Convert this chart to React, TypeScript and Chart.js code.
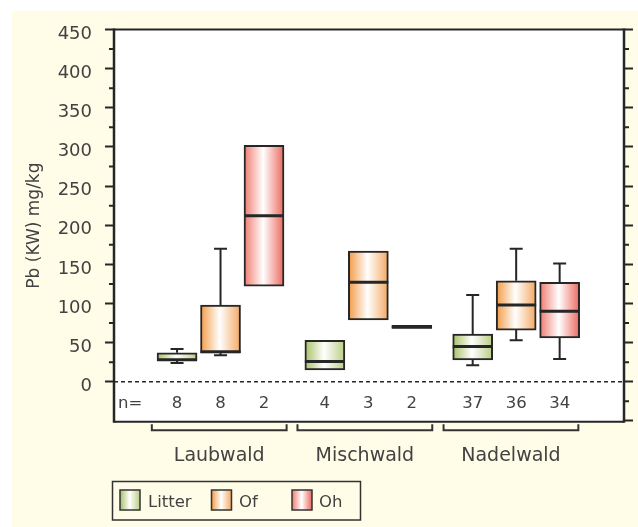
import React, { useEffect, useRef } from 'react';
import { Chart, registerables } from 'chart.js';

Chart.register(...registerables);

// ---------- data ----------
const groups = ['Laubwald', 'Mischwald', 'Nadelwald'];
const seriesNames = ['Litter', 'Of', 'Oh'];
const groupStart = [1, 4.4, 7.8];

const litterMin = [24, null, 21];
const litterQ1 = [27, 15, 28];
const litterMed = [28, 26, 45];
const litterQ3 = [37, 53, 61];
const litterMax = [42, null, 111];

const ofMin = [34, null, 53];
const ofQ1 = [37, 79, 66];
const ofMed = [38.5, 127, 98];
const ofQ3 = [98, 167, 129];
const ofMax = [170, null, 170];

const ohMin = [null, null, 29];
const ohQ1 = [122, 68, 56];
const ohMed = [212, 70, 90];
const ohQ3 = [302, 72, 127];
const ohMax = [null, null, 151];

const nLitter = [8, 4, 37];
const nOf = [8, 3, 36];
const nOh = [2, 2, 34];

const yMajorTicks = [0, 50, 100, 150, 200, 250, 300, 350, 400, 450];
const yMajorTicksRight = [-50, 0, 50, 100, 150, 200, 250, 300, 350, 400, 450];
const yMinorTicks = [25, 75, 125, 175, 225, 275, 325, 375, 425];
const yMinorTicksRight = [-25, 25, 75, 125, 175, 225, 275, 325, 375, 425];

const bracketCenters = [1.97, 5.32, 8.68];
const bracketHalf = 1.55;

// ---------- style ----------
const FONT = "'DejaVu Sans', 'Liberation Sans', sans-serif";
const TEXT = '#424242';
const INK = '#262626';
const CREAM = '#fffce8';
const colorsL = ['#a7c066', '#f39a45', '#ef7a6e'];
const colorsR = ['#b8cd84', '#f4a862', '#eb685c'];

function grad(ctx: CanvasRenderingContext2D, x0: number, x1: number, si: number) {
  const g = ctx.createLinearGradient(x0, 0, x1, 0);
  g.addColorStop(0, colorsL[si]);
  g.addColorStop(0.48, '#ffffff');
  g.addColorStop(1, colorsR[si]);
  return g;
}

const seriesStats = [
  { min: litterMin, q1: litterQ1, med: litterMed, q3: litterQ3, max: litterMax, n: nLitter },
  { min: ofMin, q1: ofQ1, med: ofMed, q3: ofQ3, max: ofMax, n: nOf },
  { min: ohMin, q1: ohQ1, med: ohMed, q3: ohQ3, max: ohMax, n: nOh },
];

const boxPlugin = {
  id: 'boxExtras',
  beforeDraw(chart: any) {
    const { ctx, width, height, chartArea: a } = chart;
    ctx.save();
    ctx.fillStyle = '#ffffff';
    ctx.fillRect(0, 0, width, height);
    ctx.fillStyle = CREAM;
    ctx.fillRect(12, 11, width - 12, height - 11);
    ctx.fillStyle = '#ffffff';
    ctx.fillRect(a.left, a.top, a.right - a.left, a.bottom - a.top);
    ctx.restore();
  },
  beforeDatasetsDraw(chart: any) {
    chart.data.datasets.forEach((ds: any, di: number) => {
      const meta = chart.getDatasetMeta(di);
      meta.data.forEach((bar: any) => {
        const { x, width } = bar.getProps(['x', 'width'], true);
        if (!isFinite(x) || !isFinite(width)) return;
        bar.options = Object.assign({}, bar.options, {
          backgroundColor: grad(chart.ctx, x - width / 2, x + width / 2, di),
        });
      });
    });
  },
  afterDatasetsDraw(chart: any) {
    const { ctx, chartArea: a } = chart;
    const ys = chart.scales.y;
    ctx.save();
    ctx.strokeStyle = INK;
    ctx.lineWidth = 1.5;
    ctx.setLineDash([4, 3]);
    const y0 = ys.getPixelForValue(0);
    ctx.beginPath();
    ctx.moveTo(a.left, y0);
    ctx.lineTo(a.right, y0);
    ctx.stroke();
    ctx.setLineDash([]);
    chart.data.datasets.forEach((ds: any, di: number) => {
      const meta = chart.getDatasetMeta(di);
      meta.data.forEach((bar: any, i: number) => {
        const raw = ds.data[i];
        const { x, width } = bar.getProps(['x', 'width'], true);
        const half = width / 2;
        const top = ys.getPixelForValue(raw.y[1]);
        const bot = ys.getPixelForValue(raw.y[0]);
        ctx.strokeStyle = INK;
        ctx.lineWidth = 2;
        const cap = 6.5;
        if (raw.max != null) {
          const ym = ys.getPixelForValue(raw.max);
          ctx.beginPath();
          ctx.moveTo(x, top);
          ctx.lineTo(x, ym);
          ctx.moveTo(x - cap, ym);
          ctx.lineTo(x + cap, ym);
          ctx.stroke();
        }
        if (raw.min != null) {
          const ym = ys.getPixelForValue(raw.min);
          ctx.beginPath();
          ctx.moveTo(x, bot);
          ctx.lineTo(x, ym);
          ctx.moveTo(x - cap, ym);
          ctx.lineTo(x + cap, ym);
          ctx.stroke();
        }
        const yMed = ys.getPixelForValue(raw.med);
        ctx.lineWidth = 3;
        ctx.beginPath();
        ctx.moveTo(x - half, yMed);
        ctx.lineTo(x + half, yMed);
        ctx.stroke();
      });
    });
    ctx.restore();
  },
  afterDraw(chart: any) {
    const { ctx, chartArea: a } = chart;
    const ys = chart.scales.y;
    const xs = chart.scales.x;
    ctx.save();
    ctx.strokeStyle = INK;
    ctx.lineWidth = 2;
    ctx.beginPath();
    ctx.moveTo(a.left, a.top);
    ctx.lineTo(a.right, a.top);
    ctx.moveTo(a.left, a.bottom);
    ctx.lineTo(a.right, a.bottom);
    ctx.stroke();
    ctx.lineWidth = 2.5;
    ctx.beginPath();
    ctx.moveTo(a.left, a.top - 1);
    ctx.lineTo(a.left, a.bottom + 1);
    ctx.moveTo(a.right, a.top - 1);
    ctx.lineTo(a.right, a.bottom + 1);
    ctx.stroke();
    ctx.lineWidth = 2;
    ctx.beginPath();
    yMinorTicks.forEach((v) => {
      const y = ys.getPixelForValue(v);
      ctx.moveTo(a.left - 5, y);
      ctx.lineTo(a.left, y);
    });
    yMinorTicksRight.forEach((v) => {
      const y = ys.getPixelForValue(v);
      ctx.moveTo(a.right, y);
      ctx.lineTo(a.right + 5, y);
    });
    ctx.stroke();
    ctx.fillStyle = TEXT;
    ctx.font = `16.5px ${FONT}`;
    ctx.textBaseline = 'alphabetic';
    ctx.textAlign = 'left';
    const nY = ys.getPixelForValue(0) + 26.5;
    ctx.fillText('n=', a.left + 4, nY);
    ctx.textAlign = 'center';
    seriesStats.forEach((s, si) => {
      groups.forEach((_, g) => {
        ctx.fillText(String(s.n[g]), xs.getPixelForValue(groupStart[g] + si), nY);
      });
    });
    ctx.strokeStyle = '#333333';
    ctx.lineWidth = 2;
    const by = a.bottom + 8.5;
    groups.forEach((name, g) => {
      const x0 = xs.getPixelForValue(bracketCenters[g] - bracketHalf);
      const x1 = xs.getPixelForValue(bracketCenters[g] + bracketHalf);
      ctx.beginPath();
      ctx.moveTo(x0, by - 6);
      ctx.lineTo(x0, by);
      ctx.lineTo(x1, by);
      ctx.lineTo(x1, by - 6);
      ctx.stroke();
      ctx.font = `19px ${FONT}`;
      ctx.textAlign = 'center';
      ctx.fillText(name, xs.getPixelForValue(bracketCenters[g]), a.bottom + 39);
    });
    ctx.lineWidth = 1.5;
    ctx.strokeStyle = '#333333';
    ctx.strokeRect(112.5, 481.5, 248, 38.5);
    const swX = [120, 211.5, 292];
    const txX = [148, 239, 319];
    ctx.font = `16.5px ${FONT}`;
    ctx.textAlign = 'left';
    seriesNames.forEach((nm, si) => {
      ctx.fillStyle = grad(ctx, swX[si], swX[si] + 20, si);
      ctx.fillRect(swX[si], 490, 20, 20);
      ctx.strokeStyle = '#333333';
      ctx.lineWidth = 1.5;
      ctx.strokeRect(swX[si], 490, 20, 20);
      ctx.fillStyle = TEXT;
      ctx.fillText(nm, txX[si], 506.5);
    });
    ctx.restore();
  },
};

export default function App() {
  const ref = useRef<HTMLCanvasElement>(null);
  useEffect(() => {
    if (!ref.current) return;
    const datasets = seriesStats.map((s, si) => ({
      label: seriesNames[si],
      data: groups.map((_, g) => ({
        x: groupStart[g] + si,
        y: [s.q1[g], s.q3[g]],
        med: s.med[g],
        min: s.min[g],
        max: s.max[g],
      })),
      backgroundColor: colorsL[si],
      borderColor: INK,
      borderWidth: 2,
      borderSkipped: false,
      grouped: false,
      barPercentage: 1,
      categoryPercentage: 1,
      maxBarThickness: 40,
    }));
    const chart = new Chart(ref.current, {
      type: 'bar',
      data: { datasets } as any,
      options: {
        responsive: false,
        animation: false,
        devicePixelRatio: 1,
        layout: { padding: { left: 0, right: 0, top: 29.5, bottom: 105.3 } },
        plugins: { legend: { display: false }, tooltip: { enabled: false } },
        scales: {
          x: {
            type: 'linear',
            min: -0.45,
            max: 11.28,
            offset: false,
            display: false,
            afterBuildTicks: (s: any) => {
              const vals: number[] = [];
              groups.forEach((_, g) => seriesNames.forEach((__, si) => vals.push(groupStart[g] + si)));
              s.ticks = vals.map((v) => ({ value: v }));
            },
          },
          y: {
            type: 'linear',
            position: 'left',
            min: -51,
            max: 450,
            afterBuildTicks: (s: any) => {
              s.ticks = yMajorTicks.map((v) => ({ value: v }));
            },
            afterFit: (s: any) => {
              s.width = 114;
            },
            grid: { drawOnChartArea: false, drawTicks: true, tickLength: 9, tickWidth: 2, tickColor: INK },
            border: { display: false },
            ticks: {
              padding: 13,
              color: TEXT,
              labelOffset: 4.5,
              font: { family: FONT, size: 18 },
            },
            title: {
              display: true,
              text: 'Pb (KW) mg/kg',
              color: TEXT,
              font: { family: FONT, size: 17 },
              padding: { top: 24.5, bottom: 0 },
            },
          },
          y2: {
            type: 'linear',
            position: 'right',
            min: -51,
            max: 450,
            afterBuildTicks: (s: any) => {
              s.ticks = yMajorTicksRight.map((v) => ({ value: v }));
            },
            afterFit: (s: any) => {
              s.width = 14;
            },
            grid: { drawOnChartArea: false, drawTicks: true, tickLength: 9, tickWidth: 2, tickColor: INK },
            border: { display: false },
            ticks: { display: false },
          },
        },
      },
      plugins: [boxPlugin],
    } as any);
    return () => chart.destroy();
  }, []);
  return (
    <div style={{ position: 'absolute', left: 0, top: 0, width: 638, height: 527 }}>
      <canvas ref={ref} width={638} height={527} style={{ display: 'block', width: 638, height: 527 }} />
    </div>
  );
}
